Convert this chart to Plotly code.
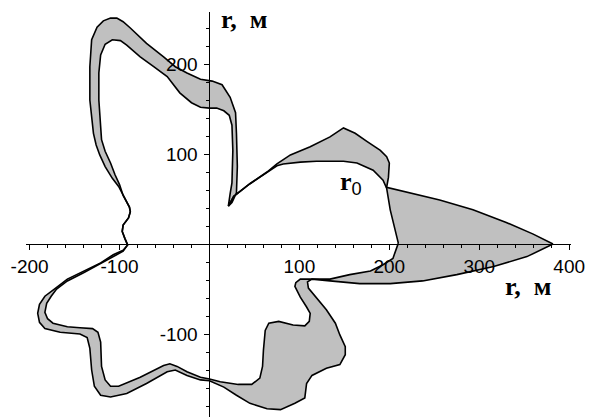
import plotly.graph_objects as go

# Outer (envelope) boundary, counter-clockwise from the right tip
P_x = [382, 360, 330, 293, 256, 220, 197, 199, 200, 197, 190, 175, 162, 149, 134, 112, 90, 75, 64, 45, 27, 21,
       25, 30, 31, 30, 29, 23, 14, 3, -10, -25, -38, -51, -70, -88, -96, -103, -110, -118, -125, -131, -133, -133,
       -129, -126, -122, -116, -108, -101, -96, -89, -88, -90, -96, -97, -94, -91, -96, -107, -121, -140, -158,
       -171, -183, -189, -191, -189, -183, -166, -144, -136, -133, -131, -128, -121, -110, -92, -70, -47, -38, -25,
       -10, 0, 16, 30, 45, 64, 79, 95, 106, 108, 114, 130, 145, 151, 151, 145, 140, 130, 119, 110, 109, 114, 134,
       167, 201, 237, 275, 316, 353, 382]
P_y = [0, 11, 24, 38, 49, 58, 63, 74, 90, 97, 104, 114, 123, 129, 119, 108, 99, 89, 80, 67, 53, 42,
       46, 57, 86, 123, 146, 163, 177, 181, 183, 190, 197, 208, 223, 240, 247, 251, 251, 248, 241, 227, 197, 160,
       123, 110, 99, 86, 73, 64, 54, 41, 36, 29, 21, 14, 6, -1, -7, -12, -21, -30, -39,
       -49, -58, -67, -77, -87, -94, -98, -100, -104, -116, -140, -158, -168, -170, -166, -155, -142, -140, -146,
       -151, -152, -159, -168, -177, -183, -184, -177, -171, -155, -146, -138, -134, -123, -114, -101, -88, -73,
       -60, -49, -42, -39, -41, -44, -44, -41, -34, -25, -14, 0]

# Inner boundary (r0), counter-clockwise from the x-axis
R_x = [210, 206, 201, 197, 193, 182, 164, 149, 119, 101, 82, 75, 64, 45, 27, 21, 23, 25, 26, 25, 22, 16, 8, 0,
       -10, -20, -33, -47, -62, -77, -92, -99, -108, -116, -121, -123, -123, -121, -120, -116, -110, -105, -100,
       -96, -89, -88, -90, -96, -97, -94, -91, -96, -107, -121, -140, -158, -170, -176, -181, -183, -180, -174,
       -158, -144, -130, -124, -121, -120, -116, -110, -101, -77, -51, -44, -36, -25, -10, 0, 12, 32, 47, 56, 59,
       60, 62, 66, 77, 93, 106, 111, 112, 108, 101, 95, 96, 101, 112, 134, 156, 179, 193, 204, 210]
R_y = [1, 19, 38, 62, 71, 82, 90, 92, 92, 91, 89, 87, 80, 67, 53, 42, 56, 68, 104, 132, 143, 148, 151, 151,
       152, 157, 168, 186, 197, 208, 221, 226, 227, 222, 210, 190, 160, 127, 116, 103, 90, 77, 66,
       54, 41, 36, 29, 21, 14, 6, -1, -8, -14, -22, -32, -41, -50, -58, -66, -76, -83, -88,
       -92, -93, -94, -98, -109, -136, -151, -158, -158, -148, -135, -133, -136, -142, -148, -150, -153, -156,
       -156, -149, -136, -118, -96, -88, -86, -90, -91, -86, -77, -70, -59, -47, -43, -39, -39, -39, -34, -30,
       -23, -16, 1]

X_TICKS = [-200, -100, 100, 200, 300, 400]
X_TICKTEXT = ["-200", "-100", "100", "200", "300", "400"]
Y_TICKS = [-100, 100, 200]
Y_TICKTEXT = ["-100", "100", "200"]

X_RANGE = [-204, 402]
Y_RANGE = [-192.2, 257.8]

fig = go.Figure()

# gray band between the two boundaries
fig.add_trace(go.Scatter(
    x=P_x + R_x[::-1], y=P_y + R_y[::-1],
    mode="lines", fill="toself", fillcolor="#c0c0c0",
    line=dict(width=0, color="rgba(0,0,0,0)"), hoverinfo="skip", showlegend=False))

for xs, ys in ((P_x, P_y), (R_x, R_y)):
    fig.add_trace(go.Scatter(x=xs, y=ys, mode="lines",
                             line=dict(color="black", width=1.6),
                             hoverinfo="skip", showlegend=False))

tickfont = dict(family="Liberation Sans, Arial, sans-serif", size=19, color="black")

fig.update_layout(
    width=591, height=417, autosize=False,
    margin=dict(l=26, r=20, t=12, b=0, pad=0, autoexpand=False),
    paper_bgcolor="white", plot_bgcolor="white",
    showlegend=False,
    xaxis=dict(range=X_RANGE, anchor="free",
               position=(0 - Y_RANGE[0]) / (Y_RANGE[1] - Y_RANGE[0]),
               showline=True, linecolor="black", linewidth=1,
               showgrid=False, zeroline=False, automargin=False,
               ticks="outside", ticklen=5, tickwidth=1, tickcolor="black",
               tickvals=X_TICKS, ticktext=X_TICKTEXT, tickfont=tickfont,
               minor=dict(dtick=20, tick0=0, ticks="outside", ticklen=3,
                          tickcolor="black", showgrid=False)),
    yaxis=dict(range=Y_RANGE, anchor="free",
               position=(0 - X_RANGE[0]) / (X_RANGE[1] - X_RANGE[0]),
               showline=True, linecolor="black", linewidth=1,
               showgrid=False, zeroline=False, automargin=False,
               ticks="outside", ticklen=5, tickwidth=1, tickcolor="black",
               tickvals=Y_TICKS, ticktext=Y_TICKTEXT, tickfont=tickfont,
               ticklabelstandoff=3,
               minor=dict(dtick=20, tick0=0, ticks="outside", ticklen=3,
                          tickcolor="black", showgrid=False)),
)

serif = dict(family="Liberation Serif, Times New Roman, serif", size=26, color="black")
fig.add_annotation(x=38, y=250, xref="x", yref="y", text="<b>r,  м</b>",
                   showarrow=False, font=serif, xanchor="center", yanchor="middle")
fig.add_annotation(x=354, y=-47, xref="x", yref="y", text="<b>r,  м</b>",
                   showarrow=False, font=serif, xanchor="center", yanchor="middle")
fig.add_annotation(x=157, y=68, xref="x", yref="y",
                   text="<b>r</b><sub><span style='font-family:Liberation Sans'>0</span></sub>",
                   showarrow=False, font=serif, xanchor="center", yanchor="middle")

fig.write_html("out.html", config={"displayModeBar": False},
               post_script="document.body.style.margin='0';document.body.style.padding='0';")
